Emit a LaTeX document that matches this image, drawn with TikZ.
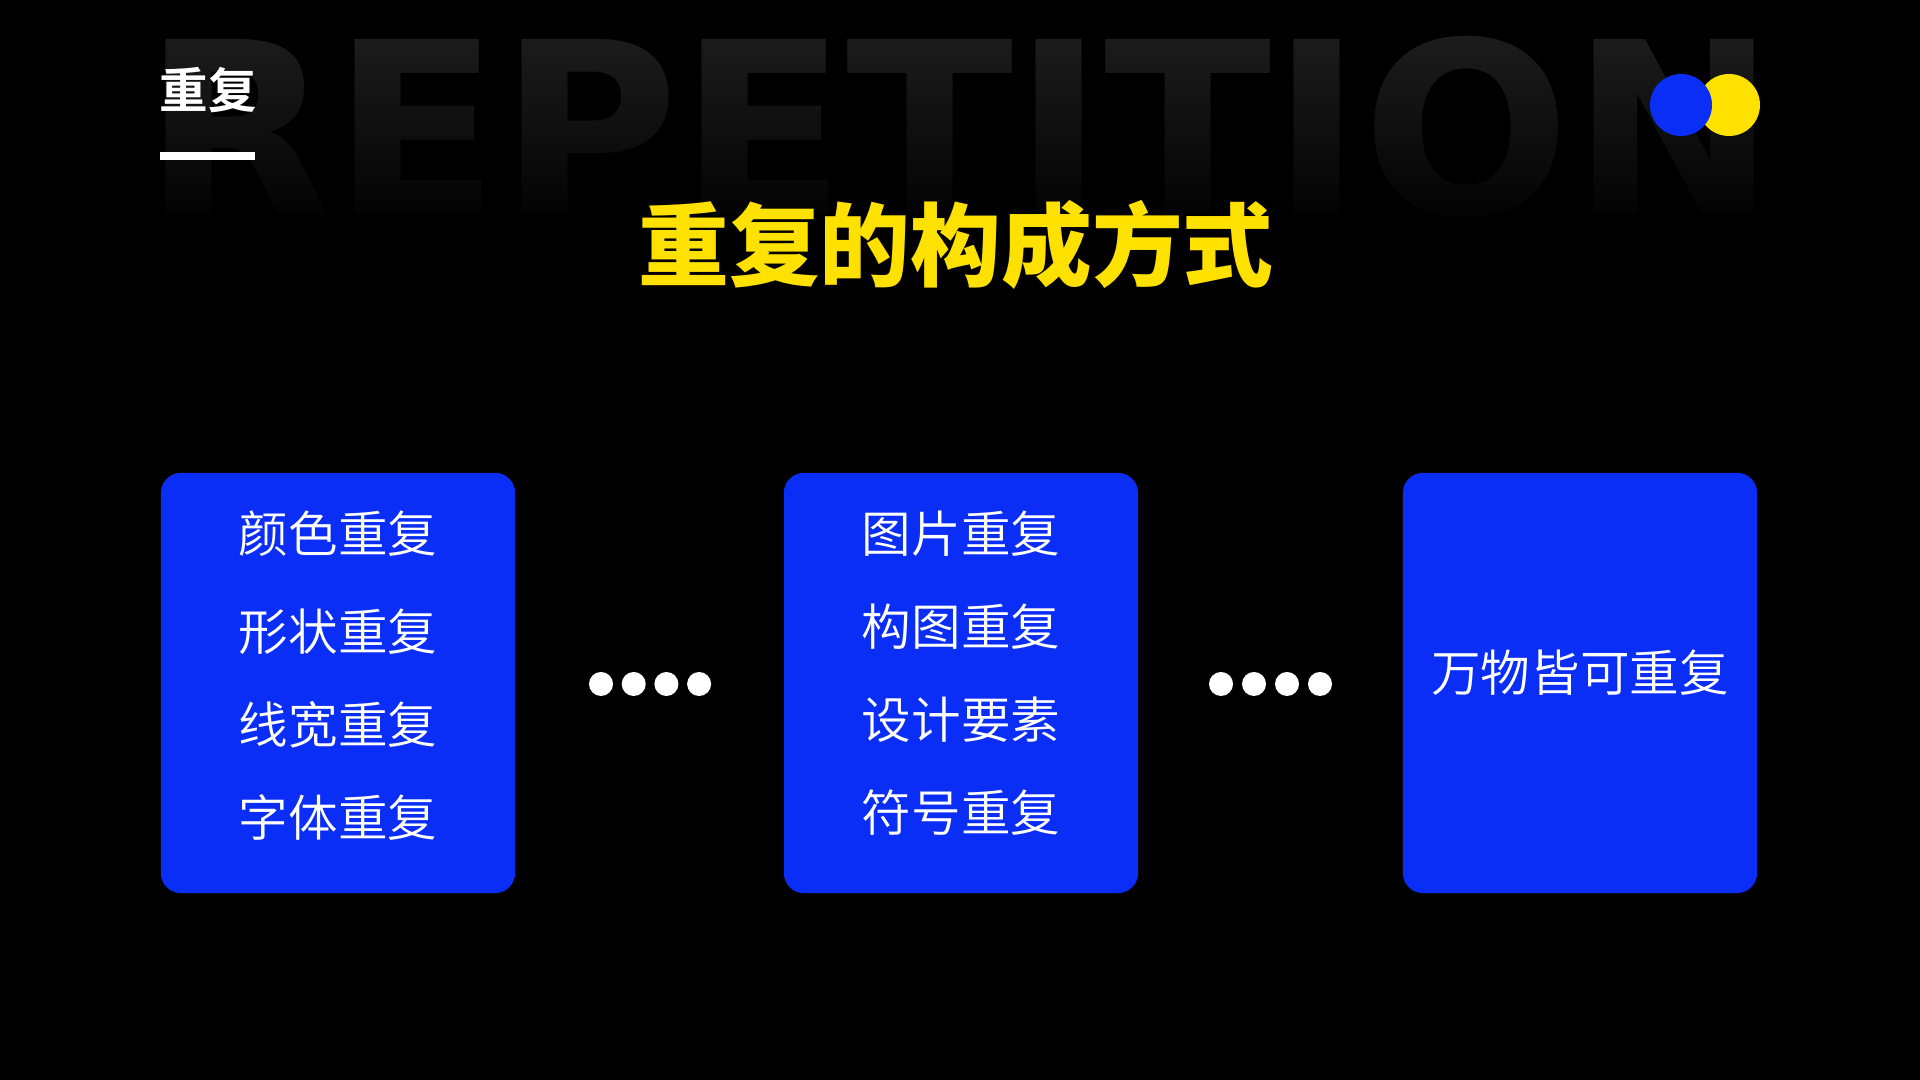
\documentclass[tikz,border=0pt]{standalone}
\usepackage{fontspec}
\usepackage{xcolor}
\usepackage{tikz}
\usetikzlibrary{fadings, positioning}
\newfontfamily\cjk{Noto Sans CJK SC}[BoldFont={Noto Sans CJK SC Bold}]
\newfontfamily\cjklight{Noto Sans CJK SC DemiLight}
\newfontfamily\cjkheavy{Noto Sans CJK SC Black}
\newfontfamily\ghostfont{DejaVu Sans Bold}
\definecolor{slideblue}{HTML}{0A2EF5}
\definecolor{slideyellow}{HTML}{FFE100}
\definecolor{ghostgray}{HTML}{1C1C1C}

\begin{document}
\begin{tikzpicture}[
  x=0.01cm, y=-0.01cm,
  card/.style={fill=slideblue, rounded corners=0.2cm, minimum width=3.54cm,
    minimum height=4.2cm, inner sep=0pt},
  item/.style={text=white, inner sep=0pt, font=\cjklight\fontsize{14.1}{16}\selectfont},
  dot/.style={circle, fill=white, minimum size=0.24cm, inner sep=0pt}
]
% background
\fill[black] (0,0) rectangle (1920,1080);
\useasboundingbox (0,0) rectangle (1920,1080);

% ghost word, fading out downwards
\node[anchor=base, inner sep=0pt, text=ghostgray, xscale=1.02,
  font=\ghostfont\fontsize{68.3}{70}\selectfont] (ghost) at (960,215) {REPETITION};
\fill[black, path fading=north] (100,40) rectangle (1850,240);

% header
\node[text=white, inner sep=0pt, font=\cjk\bfseries\fontsize{13.8}{16}\selectfont]
  (tag) at (208,90) {重复};
\fill[white] (160,152) rectangle (255,160);
\fill[slideyellow] (1729,105) circle (31);
\fill[slideblue] (1681,105) circle (31);

\node[text=slideyellow, inner sep=0pt, font=\cjkheavy\fontsize{25.8}{28}\selectfont]
  (title) at (956,245) {重复的构成方式};

% cards
\node[card] (colorcard) at (338,683) {};
\node[card] (imagecard) at (961,683) {};
\node[card] (allcard) at (1580,683) {};

\node[item] (c1) at (338,534) {颜色重复};
\node[item] (c2) at (338,632) {形状重复};
\node[item] (c3) at (338,725) {线宽重复};
\node[item] (c4) at (338,818) {字体重复};

\node[item] (i1) at (961,534) {图片重复};
\node[item] (i2) at (961,627) {构图重复};
\node[item] (i3) at (961,720) {设计要素};
\node[item] (i4) at (961,813) {符号重复};

\node[item] (a1) at (1580,673) {万物皆可重复};

% ellipsis dots
\foreach \i in {0,...,3} {
  \node[dot] (la\i) at (601+32.7*\i,684) {};
  \node[dot] (lb\i) at (1221+33*\i,684) {};
}
\end{tikzpicture}
\end{document}
